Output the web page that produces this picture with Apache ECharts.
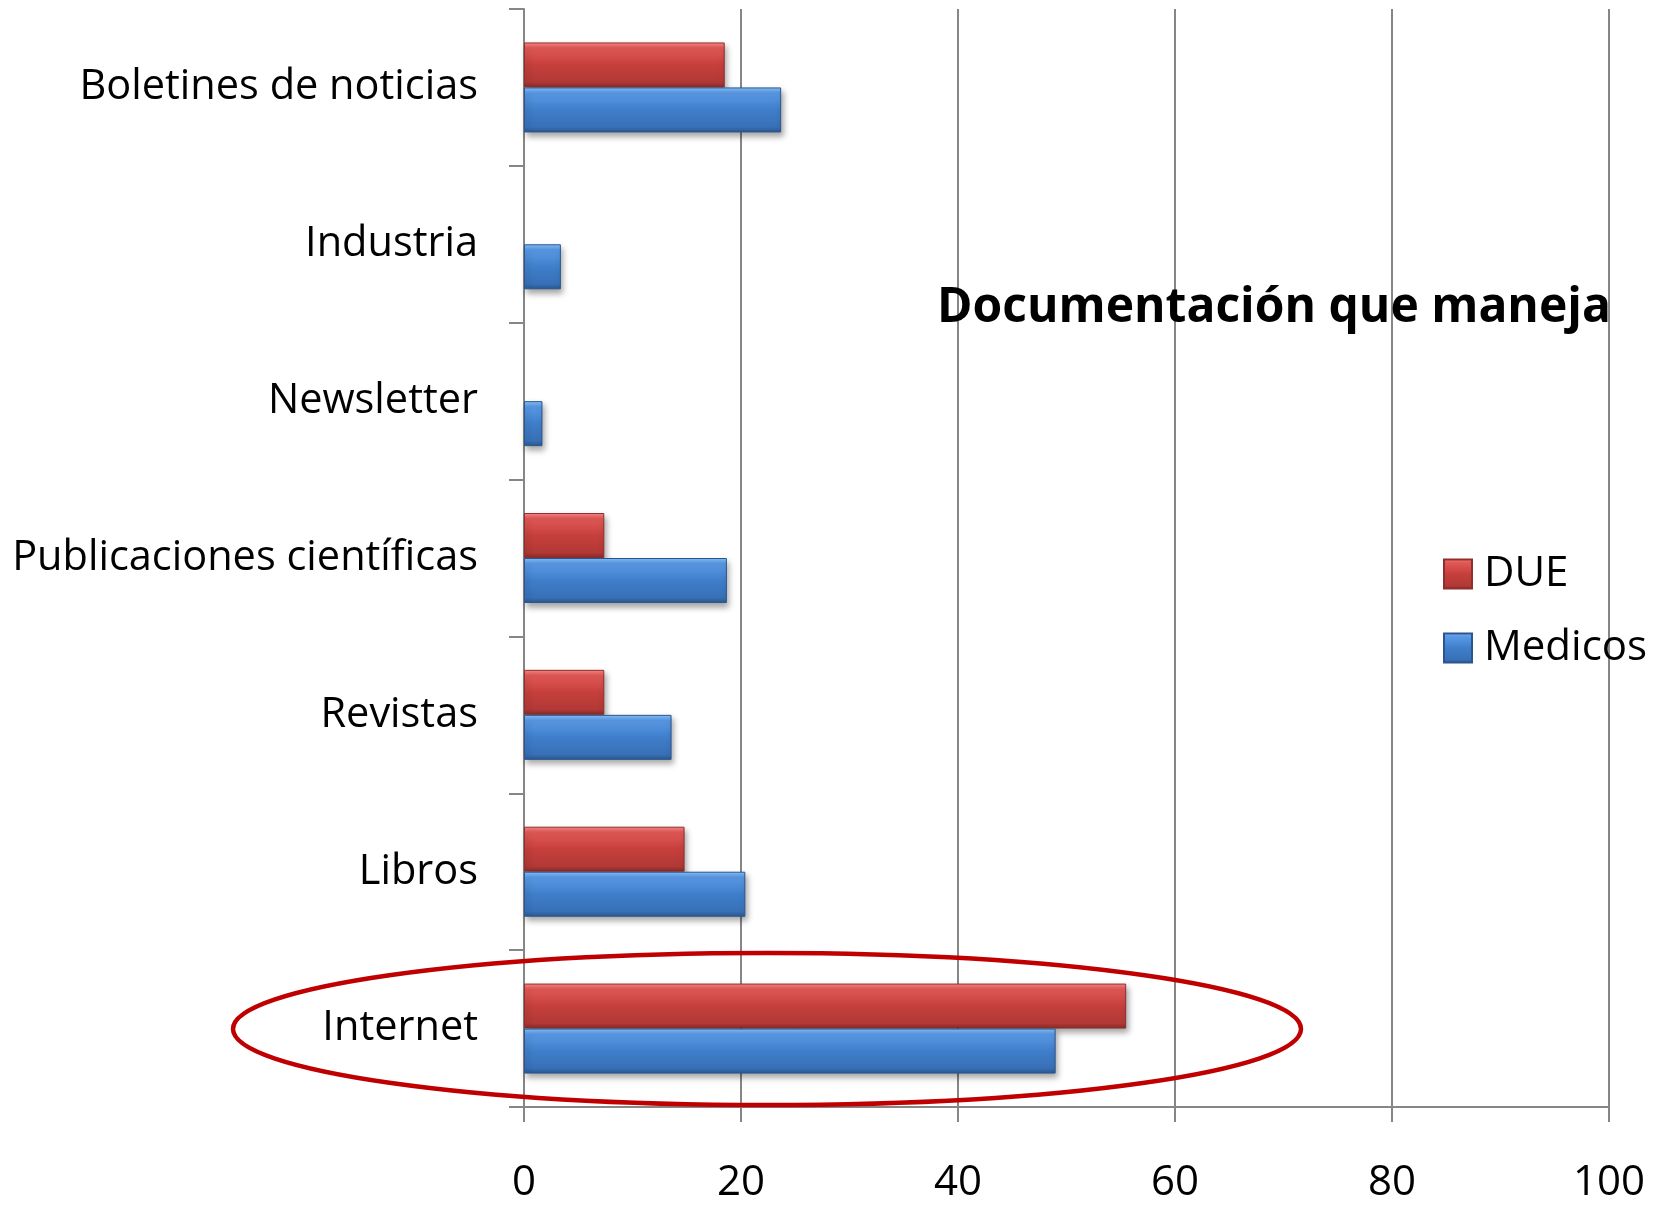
<!DOCTYPE html>
<html>
<head>
<meta charset="utf-8">
<script src="https://cdn.jsdelivr.net/npm/echarts@6/dist/echarts.min.js"></script>
<style>
  html, body { margin: 0; padding: 0; background: #ffffff; }
  #chart { width: 1669px; height: 1205px; }
</style>
</head>
<body>
<div id="chart"></div>
<script>
// Categories (bottom to top, as drawn on the category axis)
const categories = ['Internet', 'Libros', 'Revistas', 'Publicaciones científicas', 'Newsletter', 'Industria', 'Boletines de noticias'];
const dueValues = [55.5, 14.8, 7.4, 7.4, null, null, 18.5];
const medicosValues = [49.0, 20.4, 13.6, 18.7, 1.7, 3.4, 23.7];
const xTicks = [0, 20, 40, 60, 80, 100];
const seriesNames = ['DUE', 'Medicos'];
const chartTitle = 'Documentación que maneja';

const FONT = 'Open Sans';
const axisGray = '#868686';

const redFill = new echarts.graphic.LinearGradient(0, 0, 0, 1, [
  { offset: 0, color: '#ff8a8a' },
  { offset: 0.12, color: '#e25a57' },
  { offset: 0.5, color: '#c63f3c' },
  { offset: 0.88, color: '#b13936' },
  { offset: 1, color: '#8a2b29' }
]);
const blueFill = new echarts.graphic.LinearGradient(0, 0, 0, 1, [
  { offset: 0, color: '#86c4ff' },
  { offset: 0.12, color: '#5b9ae6' },
  { offset: 0.5, color: '#3f7ecb' },
  { offset: 0.88, color: '#3870b6' },
  { offset: 1, color: '#2a5790' }
]);

const chart = echarts.init(document.getElementById('chart'), null, { renderer: 'canvas' });

const option = {
  backgroundColor: '#ffffff',
  animation: false,
  title: {
    text: chartTitle,
    left: 1269,
    top: 274,
    textAlign: 'center',
    textStyle: { fontFamily: FONT, fontWeight: 'bold', fontSize: 48, color: '#000', lineHeight: 58 }
  },
  legend: {
    orient: 'vertical',
    left: 1438,
    top: 546,
    itemWidth: 28,
    itemHeight: 29,
    itemGap: 28,
    icon: 'rect',
    data: seriesNames,
    textStyle: { fontFamily: FONT, fontSize: 42, color: '#000', lineHeight: 46, padding: [0, 0, 0, 7] }
  },
  grid: { left: 524, right: 60, top: 9, bottom: 97, containLabel: false },
  xAxis: {
    type: 'value',
    min: xTicks[0],
    max: xTicks[xTicks.length - 1],
    interval: xTicks[1] - xTicks[0],
    axisLine: { show: true, lineStyle: { color: axisGray, width: 2 } },
    axisTick: { show: true, length: 15, lineStyle: { color: axisGray, width: 2 } },
    splitLine: { show: true, lineStyle: { color: axisGray, width: 2 } },
    axisLabel: { fontFamily: FONT, fontSize: 42, color: '#000', margin: 54, lineHeight: 44 }
  },
  yAxis: {
    type: 'category',
    data: categories,
    axisLine: { show: true, lineStyle: { color: axisGray, width: 2 } },
    axisTick: { show: true, length: 15, inside: false, lineStyle: { color: axisGray, width: 2 } },
    splitLine: { show: false },
    axisLabel: { fontFamily: FONT, fontSize: 41.5, color: '#000', margin: 46, padding: [7, 0, 0, 0] }
  },
  series: [
    {
      name: seriesNames[0],
      type: 'bar',
      data: dueValues,
      barWidth: 45,
      barGap: '0%',
      itemStyle: {
        color: redFill,
        borderColor: '#8e2f2d',
        borderWidth: 1,
        shadowColor: 'rgba(0,0,0,0.35)',
        shadowBlur: 6,
        shadowOffsetX: 2,
        shadowOffsetY: 4
      }
    },
    {
      name: seriesNames[1],
      type: 'bar',
      data: medicosValues,
      barWidth: 45,
      barGap: '0%',
      itemStyle: {
        color: blueFill,
        borderColor: '#2b558c',
        borderWidth: 1,
        shadowColor: 'rgba(0,0,0,0.35)',
        shadowBlur: 6,
        shadowOffsetX: 2,
        shadowOffsetY: 4
      }
    }
  ],
  graphic: [
    {
      type: 'ellipse',
      z: 100,
      silent: true,
      shape: { cx: 767, cy: 1029, rx: 534, ry: 76 },
      style: { fill: 'none', stroke: '#c00000', lineWidth: 4.5 }
    }
  ]
};

chart.setOption(option);
</script>
</body>
</html>
